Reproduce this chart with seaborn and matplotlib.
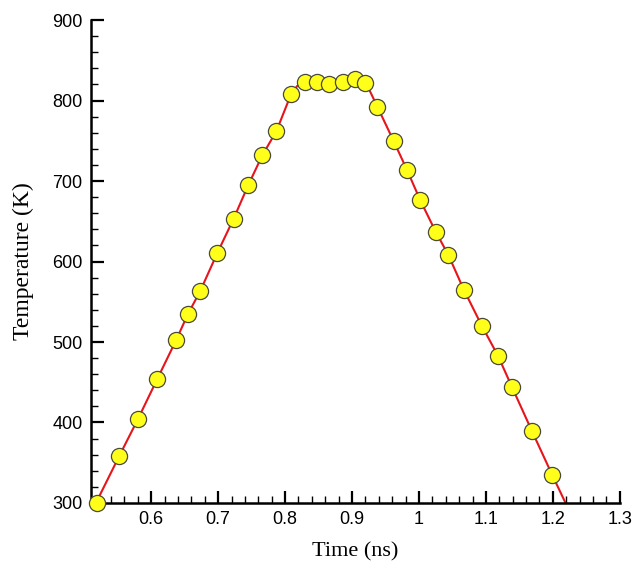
import matplotlib
matplotlib.use("Agg")
import matplotlib.pyplot as plt
import seaborn as sns
import pandas as pd
from matplotlib.ticker import MultipleLocator, FuncFormatter

# Marker samples (Time in ns, Temperature in K)
marker_time = [0.519, 0.552, 0.580, 0.609, 0.637, 0.655, 0.673, 0.699, 0.723, 0.745,
               0.766, 0.787, 0.809, 0.830, 0.847, 0.866, 0.886, 0.905, 0.919, 0.938,
               0.962, 0.982, 1.002, 1.025, 1.044, 1.067, 1.094, 1.118, 1.139, 1.169, 1.199]
marker_temp = [300, 358, 404, 454, 502, 535, 563, 611, 653, 695,
               732, 762, 808, 823, 823, 820, 823, 827, 822, 792,
               750, 714, 676, 637, 608, 565, 520, 483, 444, 389, 335]

# Continuous temperature trace
line_time = [0.515, 0.552, 0.580, 0.609, 0.637, 0.655, 0.673, 0.699, 0.723, 0.745,
             0.766, 0.787, 0.809, 0.818, 0.830, 0.847, 0.866, 0.886, 0.905, 0.922,
             0.938, 0.962, 0.982, 1.002, 1.025, 1.044, 1.067, 1.094, 1.118, 1.139,
             1.169, 1.199, 1.219]
line_temp = [296, 358, 404, 454, 502, 535, 563, 611, 653, 695,
             732, 762, 808, 818, 822, 823, 821, 823, 825, 820,
             792, 750, 714, 676, 637, 608, 565, 520, 483, 444,
             389, 335, 300]

x_ticks = [0.6, 0.7, 0.8, 0.9, 1.0, 1.1, 1.2, 1.3]
y_ticks = [300, 400, 500, 600, 700, 800, 900]

sns.set_theme(style="white")
plt.rcParams["font.family"] = ["Liberation Sans", "DejaVu Sans"]

fig = plt.figure(figsize=(6.35, 5.61), dpi=100)
ax = fig.add_axes([0.1433, 0.1034, 0.8327, 0.8609])

line_df = pd.DataFrame({"time": line_time, "temp": line_temp})
mark_df = pd.DataFrame({"time": marker_time, "temp": marker_temp})

sns.lineplot(data=line_df, x="time", y="temp", ax=ax, color="#e8141b",
             linewidth=1.5, sort=False, zorder=2)
sns.scatterplot(data=mark_df, x="time", y="temp", ax=ax, color="#ffff1a",
                edgecolor="#4a4a3a", linewidth=0.9, s=135, zorder=3, clip_on=False)

ax.set_xlim(0.51, 1.3)
ax.set_ylim(300, 900)
ax.set_xticks(x_ticks)
ax.set_yticks(y_ticks)
ax.xaxis.set_minor_locator(MultipleLocator(0.02))
ax.yaxis.set_minor_locator(MultipleLocator(20))
ax.xaxis.set_major_formatter(FuncFormatter(lambda v, p: f"{v:g}"))

for s in ["top", "right"]:
    ax.spines[s].set_visible(False)
for s in ["left", "bottom"]:
    ax.spines[s].set_color("black")
    ax.spines[s].set_linewidth(1.8)

ax.tick_params(axis="both", which="major", direction="in", length=9, width=1.6,
               color="black", labelsize=13, labelcolor="black", pad=6,
               bottom=True, left=True)
ax.tick_params(axis="both", which="minor", direction="in", length=5, width=1.0,
               color="black", bottom=True, left=True)

ax.set_xlabel("Time (ns)", family=["Liberation Serif", "DejaVu Serif"], fontsize=16,
              color="black", labelpad=10)
ax.set_ylabel("Temperature (K)", family=["Liberation Serif", "DejaVu Serif"], fontsize=17,
              color="black", labelpad=13)

fig.savefig("out.png", dpi=100)
